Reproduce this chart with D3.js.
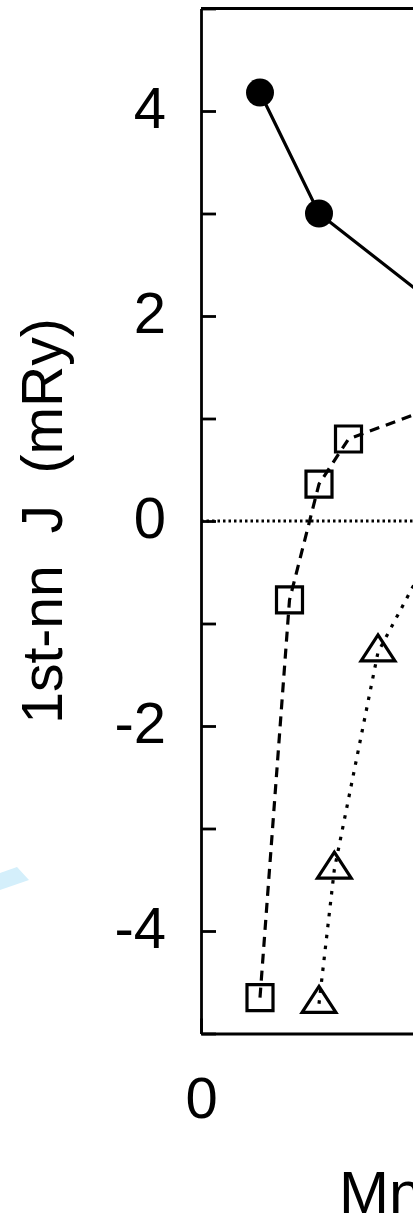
<!DOCTYPE html>
<html>
<head>
<meta charset="utf-8">
<script src="https://cdn.jsdelivr.net/npm/d3@7"></script>
<style>
body { margin: 0; background: #fff; }
svg { display: block; font-family: "Liberation Sans", Arial, Helvetica, sans-serif; }
</style>
</head>
<body>
<script>
// y axis: J in mRy, ticks every 1, labels on even values
let yTicks = [-5, -4, -3, -2, -1, 0, 1, 2, 3, 4, 5]
let yLabels = [-4, -2, 0, 2, 4]
let xTicks = [0]
let xLabels = ["0"]

// the three series (x = Mn content)
let circleX = [0.1, 0.2, 0.4]
let circleJ = [4.18, 3.0, 2.1]
let squareX = [0.1, 0.15, 0.2, 0.25, 0.4]
let squareJ = [-4.65, -0.77, 0.36, 0.80, 1.12]
let triangleX = [0.2, 0.226, 0.3, 0.4]
let triangleJ = [-4.71, -3.40, -1.28, -0.2]

let width = 413, height = 1215
let fs = 58

let x = d3.scaleLinear().domain([0, 1]).range([201, 791])
let y = d3.scaleLinear().domain([-5, 5]).range([1033.5, 8.5])

var svg = d3.select("body").append("svg")
    .attr("width", width)
    .attr("height", height)

// faint blue fragment at the left edge
svg.append("polygon")
    .attr("points", "0,873 17,867 29,880 0,890")
    .attr("fill", "#d4effb")

// frame: top and right sides
svg.append("path")
    .attr("d", "M" + x(0) + "," + y(5) + "H" + x(1) + "V" + y(-5))
    .attr("fill", "none")
    .attr("stroke", "#000")
    .attr("stroke-width", 2.8)

// zero line
svg.append("line")
    .attr("x1", x(0)).attr("x2", x(1))
    .attr("y1", y(0)).attr("y2", y(0))
    .attr("stroke", "#000")
    .attr("stroke-width", 2.8)
    .attr("stroke-dasharray", "2.5,3")

var yAxis = d3.axisLeft(y)
    .tickValues(yTicks)
    .tickSizeInner(-15)
    .tickSizeOuter(0)
    .tickPadding(35)
    .tickFormat(d => yLabels.includes(d) ? String(d) : "")

var gy = svg.append("g")
    .attr("transform", "translate(" + x(0) + ",0)")
    .call(yAxis)
gy.selectAll("path, line").attr("stroke-width", 2.8)
gy.selectAll("text").attr("font-size", fs).attr("dy", "0.29em")
    .attr("font-family", "Liberation Sans, Arial, sans-serif")

var xAxis = d3.axisBottom(x)
    .tickValues(xTicks)
    .tickSizeInner(-15)
    .tickSizeOuter(0)
    .tickPadding(43)
    .tickFormat((d, i) => xLabels[i])

var gx = svg.append("g")
    .attr("transform", "translate(0," + y(-5) + ")")
    .call(xAxis)
gx.selectAll("path, line").attr("stroke-width", 2.8)
gx.selectAll("text").attr("font-size", fs)
    .attr("font-family", "Liberation Sans, Arial, sans-serif")

// axis titles
svg.append("text")
    .attr("transform", "translate(62," + y(0) + ") rotate(-90)")
    .attr("text-anchor", "middle")
    .attr("font-size", 57)
    .style("white-space", "pre")
    .text("1st-nn  J  (mRy)")

svg.append("text")
    .attr("x", 339)
    .attr("y", 1213)
    .attr("font-size", 60)
    .text("Mn")

// open triangle a bit wider than d3's equilateral one
var wideTriangle = {
    draw: function(ctx, size) {
        var h = Math.sqrt(size)
        ctx.moveTo(0, -h * 0.667)
        ctx.lineTo(h * 0.65, h * 0.333)
        ctx.lineTo(-h * 0.65, h * 0.333)
        ctx.closePath()
    }
}

var line = d3.line().x(d => x(d[0])).y(d => y(d[1]))

function series(xs, js, dash, symbol) {
    var pts = xs.map((v, i) => [v, js[i]])
    svg.append("path")
        .attr("d", line(pts))
        .attr("fill", "none")
        .attr("stroke", "#000")
        .attr("stroke-width", 3.2)
        .attr("stroke-dasharray", dash)
    var m = svg.selectAll(null)
        .data(pts)
        .enter()
        .append("path")
        .attr("transform", d => "translate(" + x(d[0]) + "," + y(d[1]) + ")")
        .attr("d", symbol)
    return m
}

series(circleX, circleJ, null, d3.symbol().type(d3.symbolCircle).size(Math.PI * 14 * 14)())
    .attr("fill", "#000")

series(squareX, squareJ, "10,7", d3.symbol().type(d3.symbolSquare).size(26 * 26)())
    .attr("fill", "none")
    .attr("stroke", "#000")
    .attr("stroke-width", 3.2)

series(triangleX, triangleJ, "3.5,7.5", d3.symbol().type(wideTriangle).size(26 * 26)())
    .attr("fill", "none")
    .attr("stroke", "#000")
    .attr("stroke-width", 3.2)
</script>
</body>
</html>
